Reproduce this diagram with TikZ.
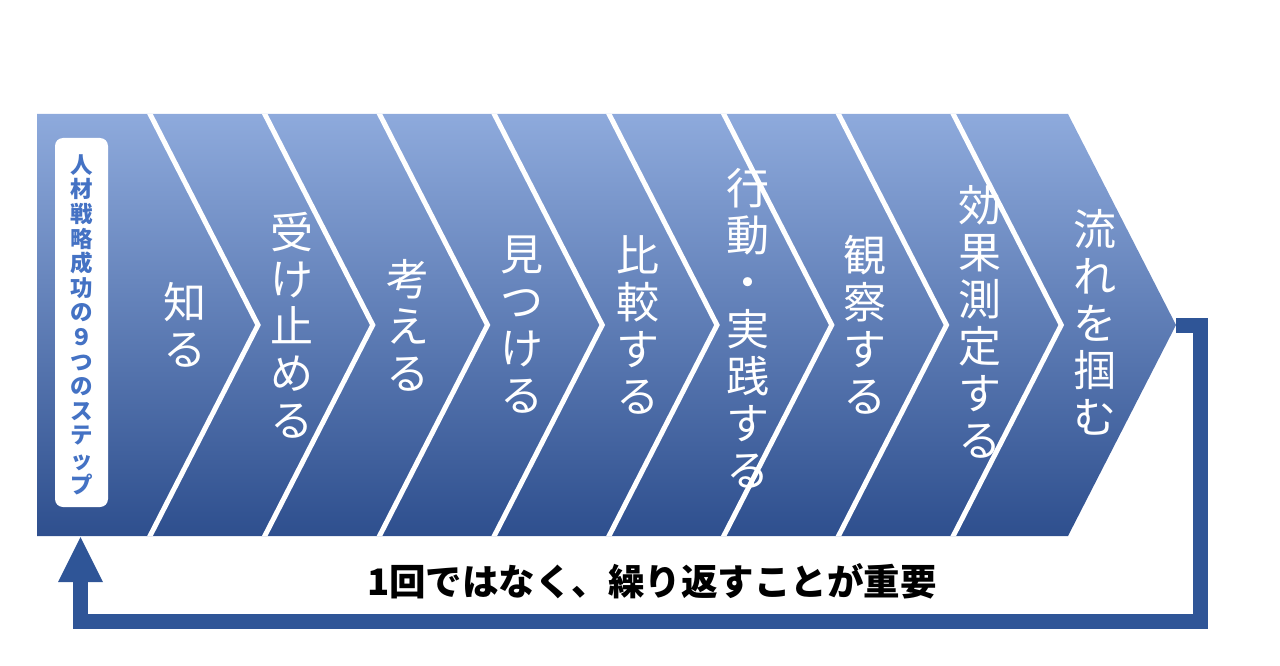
\documentclass[tikz,border=0pt]{standalone}
\usepackage{fontspec}
\newfontfamily\jp{Noto Sans CJK JP}
\definecolor{gtop}{HTML}{8EAADC}
\definecolor{gmid}{HTML}{4C74C4}
\definecolor{gbot}{HTML}{2E4F8E}
\definecolor{loopblue}{HTML}{2F5597}
\definecolor{labelblue}{HTML}{4472C4}
\begin{document}
\begin{tikzpicture}[x=1pt,y=-1pt,
  steptext/.style={text=white, font=\jp\fontsize{43}{47}\selectfont, align=center, inner sep=0pt},
  sepline/.style={draw=white, line width=5pt, line join=miter},
  looppath/.style={draw=loopblue, line width=15pt, line join=miter},
]
\useasboundingbox (0,0) rectangle (1280,666);
% chevron band
\shade[top color=gtop, middle color=gmid, bottom color=gbot]
  (37,114) -- (1068,114) -- (1176,325) -- (1068,536) -- (37,536) -- cycle;
\begin{scope}
  \clip (37,114) -- (1068,114) -- (1176,325) -- (1068,536) -- (37,536) -- cycle;
  \foreach \k in {0,...,7} {
    \draw[sepline] ({150+\k*114.75-10.24},94) -- ({258+\k*114.75},325) -- ({150+\k*114.75-10.24},556);
  }
\end{scope}
% title box
\node[fill=white, rounded corners=8pt, minimum width=53pt, minimum height=369pt, inner sep=0pt] (titlebox) at (81.5,322.5) {};
\node[text=labelblue, font=\jp\bfseries\fontsize{22.5}{24.6}\selectfont, align=center, inner sep=0pt] (title) at (81.5,324.5)
  {人\\材\\戦\\略\\成\\功\\の\\９\\つ\\の\\ス\\テ\\ッ\\プ};
% step labels
\node[steptext] (s1) at (185,325) {知\\る};
\node[steptext] (s2) at (292,325) {受\\け\\止\\め\\る};
\node[steptext] (s3) at (408,325) {考\\え\\る};
\node[steptext] (s4) at (522,325) {見\\つ\\け\\る};
\node[steptext] (s5) at (638,325) {比\\較\\す\\る};
\node[steptext] (s6) at (748,328) {行\\動\\・\\実\\践\\す\\る};
\node[steptext] (s7) at (865,325) {観\\察\\す\\る};
\node[steptext] (s8) at (980,322) {効\\果\\測\\定\\す\\る};
\node[steptext] (s9) at (1095,322) {流\\れ\\を\\掴\\む};
% loop arrow
\coordinate (tip) at (1176,325.5);
\coordinate (back) at (80.5,537);
\draw[looppath] (tip) -- (1200.5,325.5) -- (1200.5,621.5) -- (80.5,621.5) -- (80.5,582);
\fill[loopblue] (58,582) -- (103,582) -- (back) -- cycle;
% bottom caption
\node[font=\jp\bfseries\fontsize{36.5}{36.5}\selectfont, inner sep=0pt] (caption) at (652,581) {1回ではなく、繰り返すことが重要};
\end{tikzpicture}
\end{document}
